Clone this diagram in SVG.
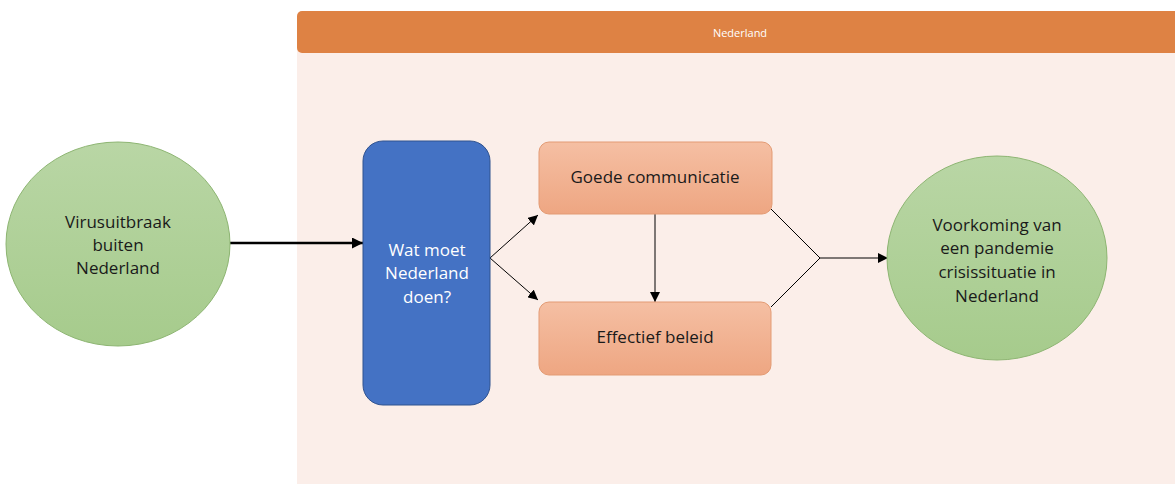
<svg xmlns="http://www.w3.org/2000/svg" width="1175" height="484" viewBox="0 0 1175 484">
  <defs>
    <linearGradient id="green" x1="0" y1="0" x2="0" y2="1">
      <stop offset="0" stop-color="#B9D6A5"/>
      <stop offset="1" stop-color="#A6CB8C"/>
    </linearGradient>
    <linearGradient id="salmon" x1="0" y1="0" x2="0" y2="1">
      <stop offset="0" stop-color="#F5BFA3"/>
      <stop offset="1" stop-color="#EEA682"/>
    </linearGradient>
    <marker id="arrow" viewBox="0 0 10 10" refX="10" refY="5" markerWidth="10" markerHeight="10" markerUnits="userSpaceOnUse" orient="auto">
      <path d="M0,0 L10,5 L0,10 z" fill="#000"/>
    </marker>
    <marker id="arrowBig" viewBox="0 0 10 10" refX="10" refY="5" markerWidth="11" markerHeight="11" markerUnits="userSpaceOnUse" orient="auto">
      <path d="M0,0 L10,5 L0,10 z" fill="#000"/>
    </marker>
  </defs>
  <style>
    text { font-family: "Open Sans", "Liberation Sans", Arial, sans-serif; text-anchor: middle; }
    .dark { fill: #1a1a1a; font-size: 17px; }
    .light { fill: #ffffff; font-size: 17px; }
    .circle { fill: url(#green); stroke: #8DB572; stroke-width: 1; }
    .box { fill: url(#salmon); stroke: #E39B74; stroke-width: 1; }
    .conn { fill: none; stroke: #000; stroke-width: 1; }
  </style>

  <rect width="1175" height="484" fill="#ffffff"/>

  <!-- Swimlane: Nederland -->
  <g id="lane-nederland">
    <rect x="297" y="40" width="890" height="444" fill="#FBEEE9"/>
    <rect x="297" y="11" width="890" height="42" rx="5" fill="#DE8244"/>
    <text x="740" y="37" class="light" style="font-size:11px">Nederland</text>
  </g>

  <!-- Connectors -->
  <g id="connectors">
    <line x1="230" y1="243" x2="363" y2="243" stroke="#000" stroke-width="2.5" marker-end="url(#arrowBig)"/>
    <line x1="490" y1="258" x2="538" y2="215" class="conn" marker-end="url(#arrow)"/>
    <line x1="490" y1="258" x2="538" y2="300" class="conn" marker-end="url(#arrow)"/>
    <line x1="655" y1="214" x2="655" y2="302" class="conn" marker-end="url(#arrow)"/>
    <polyline points="771,209 820,258 771,307" class="conn"/>
    <line x1="820" y1="258" x2="888" y2="258" class="conn" marker-end="url(#arrow)"/>
  </g>

  <g id="node-virusuitbraak">
    <ellipse cx="118" cy="244" rx="112" ry="102" class="circle"/>
    <text class="dark" x="118" y="228">Virusuitbraak</text>
    <text class="dark" x="118" y="251">buiten</text>
    <text class="dark" x="118" y="274">Nederland</text>
  </g>

  <g id="node-wat-moet">
    <rect x="363" y="141" width="127" height="264" rx="20" fill="#4472C4" stroke="#2F528F" stroke-width="1"/>
    <text class="light" x="427" y="256">Wat moet</text>
    <text class="light" x="427" y="279">Nederland</text>
    <text class="light" x="427" y="303">doen?</text>
  </g>

  <g id="node-communicatie">
    <rect x="539" y="142" width="233" height="72" rx="10" class="box"/>
    <text class="dark" x="655" y="183">Goede communicatie</text>
  </g>

  <g id="node-beleid">
    <rect x="539" y="302" width="232" height="73" rx="10" class="box"/>
    <text class="dark" x="655" y="343">Effectief beleid</text>
  </g>

  <g id="node-voorkoming">
    <ellipse cx="997" cy="258" rx="110" ry="102" class="circle"/>
    <text class="dark" x="997" y="231">Voorkoming van</text>
    <text class="dark" x="997" y="254">een pandemie</text>
    <text class="dark" x="997" y="278">crisissituatie in</text>
    <text class="dark" x="997" y="302">Nederland</text>
  </g>
</svg>
